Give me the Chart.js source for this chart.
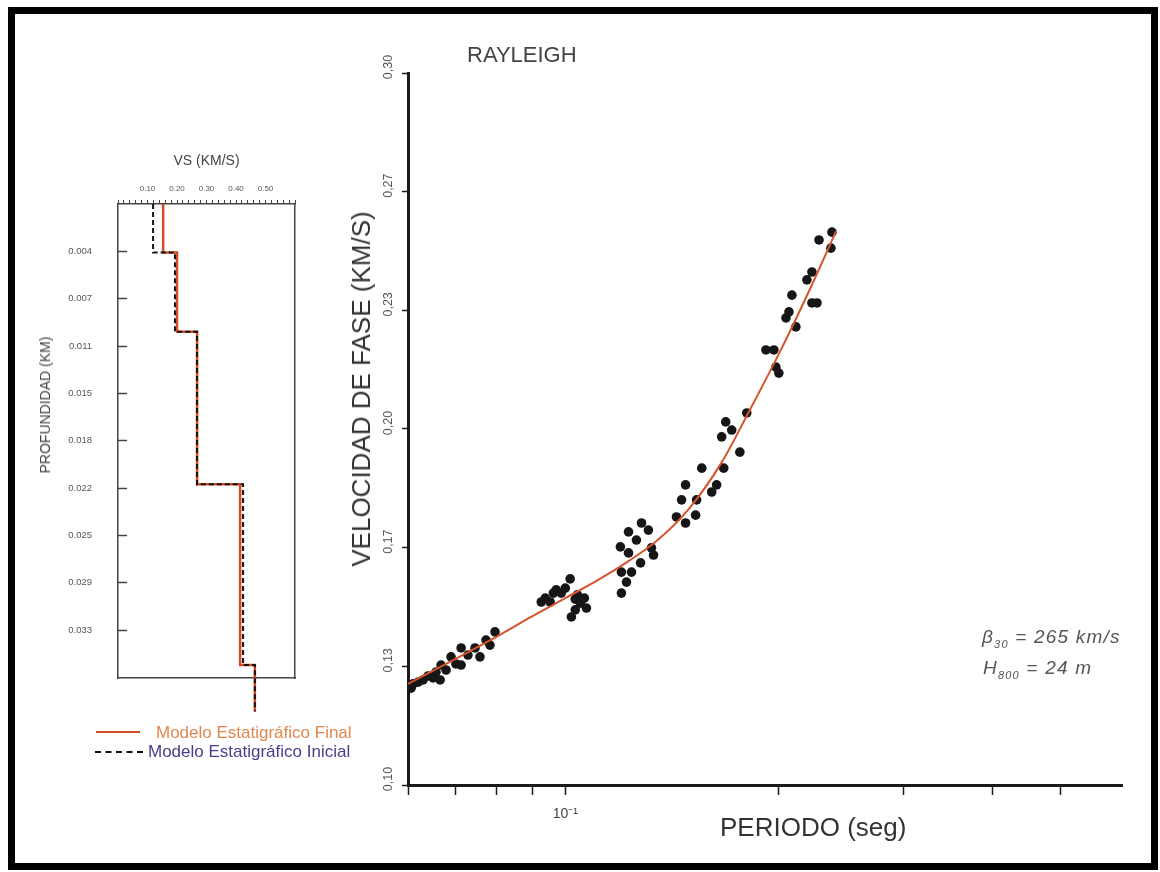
<!DOCTYPE html>
<html lang="es">
<head>
<meta charset="utf-8">
<title>Rayleigh - curva de dispersión</title>
<script src="https://cdn.jsdelivr.net/npm/chart.js@4/dist/chart.umd.min.js"></script>
<style>
  body { margin: 0; background: #fff; font-family: 'Liberation Sans', Arial, sans-serif; }
  #page { position: relative; width: 1160px; height: 872px; overflow: hidden; background: #fff; }
  #frame { position: absolute; left: 8px; top: 7px; width: 1150px; height: 863px; box-sizing: border-box; border: 7px solid #000; }
  canvas { position: absolute; }
  .txt { position: absolute; white-space: nowrap; line-height: 1; color: #3a3a3a; }
  .rot { transform: translate(-50%, -50%) rotate(-90deg); }
  .sw { position: absolute; height: 0; }
</style>
</head>
<body>
<div id="page">
  <div id="frame"></div>
  <canvas id="perfil" width="300" height="600" style="left:20px; top:140px;"></canvas>
  <canvas id="dispersion" width="820" height="840" style="left:330px; top:20px;"></canvas>

  <div class="txt" style="left:467px; top:44px; font-size:22px; color:#444;">RAYLEIGH</div>
  <div class="txt rot" style="left:361px; top:389px; font-size:26px; color:#333;">VELOCIDAD DE FASE (KM/S)</div>
  <div class="txt" style="left:720px; top:814px; font-size:26px; color:#333;">PERIODO (seg)</div>
  <div class="txt" style="left:982px; top:627px; font-size:19px; font-style:italic; letter-spacing:1.2px; color:#555;">β<sub style="font-size:11px;">30</sub> = 265 km/s</div>
  <div class="txt" style="left:983px; top:658px; font-size:19px; font-style:italic; letter-spacing:1.2px; color:#555;">H<sub style="font-size:11px;">800</sub> = 24 m</div>

  <div class="txt rot" style="left:45px; top:405px; font-size:14px; color:#444;">PROFUNDIDAD (KM)</div>

  <div class="sw" style="left:96px; top:731px; width:44px; border-top:2.5px solid #d44a22;"></div>
  <div class="txt" style="left:156px; top:724px; font-size:17px; color:#e0874e;">Modelo Estatigráfico Final</div>
  <div class="sw" style="left:95px; top:751px; width:48px; border-top:2px dashed #111;"></div>
  <div class="txt" style="left:148px; top:743px; font-size:17px; color:#4b3c8c;">Modelo Estatigráfico Inicial</div>
</div>

<script>
// Curva de dispersión observada (periodo en seg, velocidad de fase en km/s)
const obsPeriod = [0.0606, 0.0610, 0.0620, 0.0630, 0.0640, 0.0651, 0.0657, 0.0666, 0.0668, 0.0679,
  0.0690, 0.0701, 0.0713, 0.0713, 0.0729, 0.0746, 0.0758, 0.0773, 0.0783, 0.0796,
  0.0925, 0.0937, 0.0952, 0.0962, 0.0971, 0.0987, 0.1000, 0.1016, 0.1033, 0.1020,
  0.1033, 0.1050, 0.1064, 0.1071, 0.1040,
  0.1200, 0.1220, 0.1200, 0.1240, 0.1277, 0.1196, 0.1228, 0.1228, 0.1281, 0.1260,
  0.1323, 0.1332, 0.1310,
  0.1435, 0.1459, 0.1478, 0.1478, 0.1527, 0.1532, 0.1558, 0.1609, 0.1635, 0.1673,
  0.1662, 0.1684, 0.1717, 0.1763, 0.1803,
  0.1919, 0.1969, 0.1982, 0.2001, 0.2048, 0.2068, 0.2088, 0.2115, 0.2192, 0.2228,
  0.2228, 0.2265, 0.2280, 0.2378, 0.2370];
const obsVel = [0.1272, 0.1284, 0.1289, 0.1295, 0.1306, 0.1301, 0.1317, 0.1295, 0.1337, 0.1323,
  0.1360, 0.1340, 0.1385, 0.1337, 0.1365, 0.1385, 0.1360, 0.1407, 0.1393, 0.1430,
  0.1514, 0.1525, 0.1514, 0.1539, 0.1548, 0.1539, 0.1553, 0.1579, 0.1522, 0.1472,
  0.1492, 0.1511, 0.1525, 0.1497, 0.1534,
  0.1539, 0.1570, 0.1598, 0.1598, 0.1624, 0.1669, 0.1652, 0.1711, 0.1736, 0.1688,
  0.1666, 0.1646, 0.1716,
  0.1753, 0.1801, 0.1843, 0.1736, 0.1758, 0.1801, 0.1890, 0.1823, 0.1843, 0.1890,
  0.1978, 0.2020, 0.1997, 0.1935, 0.2045,
  0.2222, 0.2222, 0.2174, 0.2157, 0.2312, 0.2329, 0.2376, 0.2287, 0.2419, 0.2441,
  0.2354, 0.2354, 0.2531, 0.2553, 0.2508];

// Curva teórica del modelo final
const curvePeriod = [0.0600, 0.0695, 0.0804, 0.0895, 0.1000, 0.1113, 0.1228, 0.1341, 0.1493, 0.1663, 0.1815, 0.2021, 0.2221, 0.2410];
const curveVel = [0.1284, 0.1351, 0.1419, 0.1472, 0.1525, 0.1576, 0.1629, 0.1683, 0.1775, 0.1907, 0.2048, 0.2228, 0.2399, 0.2556];

const xTickValues = [0.06, 0.07, 0.08, 0.09, 0.1, 0.2, 0.3, 0.4, 0.5];
const xTickLabels = ['', '', '', '', '10⁻¹', '', '', '', ''];
const yTickValues = [0.10, 0.13333, 0.16667, 0.20, 0.23333, 0.26667, 0.30];
const yTickLabels = ['0,10', '0,13', '0,17', '0,20', '0,23', '0,27', '0,30'];

// Perfil de velocidades (cima de cada capa en km, Vs en km/s)
const layerTop = [0, 0.00375, 0.0099, 0.0217, 0.0357, 0.0393];
const vsFinal = [0.153, 0.200, 0.268, 0.414, 0.464, 0.464];
const vsInitial = [0.119, 0.193, 0.268, 0.424, 0.464, 0.464];
const vsLabelValues = [0.1, 0.2, 0.3, 0.4, 0.5];
const depthTickValues = [0.00367, 0.00733, 0.011, 0.01467, 0.01833, 0.022, 0.02567, 0.02933, 0.033];
const depthTickLabels = ['0.004', '0.007', '0.011', '0.015', '0.018', '0.022', '0.025', '0.029', '0.033'];
const depthMax = 0.0367;

const ink = '#1a1a1a';

new Chart(document.getElementById('dispersion'), {
  type: 'scatter',
  data: {
    datasets: [
      {
        type: 'line',
        label: 'Curva teórica',
        data: curvePeriod.map((p, i) => ({ x: p, y: curveVel[i] })),
        borderColor: '#d6542c',
        borderWidth: 2,
        pointRadius: 0,
        cubicInterpolationMode: 'monotone',
        fill: false
      },
      {
        label: 'Datos observados',
        data: obsPeriod.map((p, i) => ({ x: p, y: obsVel[i] })),
        pointRadius: 4.8,
        backgroundColor: '#161616',
        borderWidth: 0
      }
    ]
  },
  options: {
    responsive: false,
    animation: false,
    layout: { padding: { top: 53, right: 28 } },
    plugins: { legend: { display: false }, tooltip: { enabled: false } },
    scales: {
      x: {
        type: 'logarithmic',
        min: 0.06,
        max: 0.61,
        afterBuildTicks: (s) => { s.ticks = xTickValues.map((v) => ({ value: v })); },
        afterFit: (s) => { s.height = 75; },
        ticks: {
          autoSkip: false,
          maxRotation: 0,
          padding: 11,
          color: '#444',
          font: { size: 14 },
          callback: (v) => xTickLabels[xTickValues.indexOf(v)] || ''
        },
        grid: { drawOnChartArea: false, tickLength: 10, tickWidth: 1.5, tickColor: ink },
        border: { color: ink, width: 3 }
      },
      y: {
        min: 0.10,
        max: 0.30,
        afterBuildTicks: (s) => { s.ticks = yTickValues.map((v) => ({ value: v })); },
        afterFit: (s) => { s.width = 78; },
        ticks: {
          autoSkip: false,
          minRotation: 90,
          maxRotation: 90,
          crossAlign: 'center',
          labelOffset: -6,
          padding: 1,
          color: '#555',
          font: { size: 12.5 },
          callback: (v, i) => yTickLabels[i]
        },
        grid: { drawOnChartArea: false, tickLength: 6, tickWidth: 1.5, tickColor: ink },
        border: { color: ink, width: 3 }
      }
    }
  }
});

new Chart(document.getElementById('perfil'), {
  type: 'line',
  data: {
    datasets: [
      {
        label: 'Modelo Estatigráfico Inicial',
        data: vsInitial.map((v, i) => ({ x: v, y: layerTop[i] })),
        stepped: 'after',
        borderColor: '#111',
        borderWidth: 2,
        borderDash: [5, 3],
        pointRadius: 0,
        clip: false
      },
      {
        label: 'Modelo Estatigráfico Final',
        data: vsFinal.map((v, i) => ({ x: v, y: layerTop[i] })),
        stepped: 'after',
        borderColor: '#d44a22',
        borderWidth: 2.5,
        pointRadius: 0,
        clip: false
      }
    ]
  },
  options: {
    responsive: false,
    animation: false,
    layout: { padding: { right: 25, bottom: 62 } },
    plugins: { legend: { display: false }, tooltip: { enabled: false } },
    scales: {
      x: {
        type: 'linear',
        position: 'top',
        min: 0,
        max: 0.6,
        afterFit: (s) => { s.height = 64; },
        title: { display: true, text: 'VS (KM/S)', color: '#444', font: { size: 14 }, padding: { top: 13, bottom: 0 } },
        ticks: {
          stepSize: 0.02,
          autoSkip: false,
          maxRotation: 0,
          padding: 6,
          color: '#555',
          font: { size: 8 },
          callback: (v) => (vsLabelValues.includes(Math.round(v * 100) / 100) ? v.toFixed(2) : '')
        },
        grid: { drawOnChartArea: false, tickLength: 4, tickColor: '#444' },
        border: { color: '#444', width: 1.5 }
      },
      xb: {
        type: 'linear',
        position: 'bottom',
        min: 0,
        max: 0.6,
        afterFit: (s) => { s.height = 0; },
        ticks: { display: false },
        grid: { drawOnChartArea: false, drawTicks: false },
        border: { color: '#444', width: 1.5 }
      },
      y: {
        type: 'linear',
        reverse: true,
        min: 0,
        max: depthMax,
        afterBuildTicks: (s) => { s.ticks = depthTickValues.map((v) => ({ value: v })); },
        afterFit: (s) => { s.width = 98; },
        ticks: {
          autoSkip: false,
          padding: 35,
          color: '#555',
          font: { size: 9.5 },
          callback: (v, i) => depthTickLabels[i]
        },
        grid: { drawOnChartArea: false, tickLength: -9, tickWidth: 1.5, tickColor: '#444' },
        border: { color: '#444', width: 1.5 }
      },
      yr: {
        type: 'linear',
        position: 'right',
        reverse: true,
        min: 0,
        max: depthMax,
        afterFit: (s) => { s.width = 0; },
        ticks: { display: false },
        grid: { drawOnChartArea: false, drawTicks: false },
        border: { color: '#444', width: 1.5 }
      }
    }
  }
});
</script>
</body>
</html>
